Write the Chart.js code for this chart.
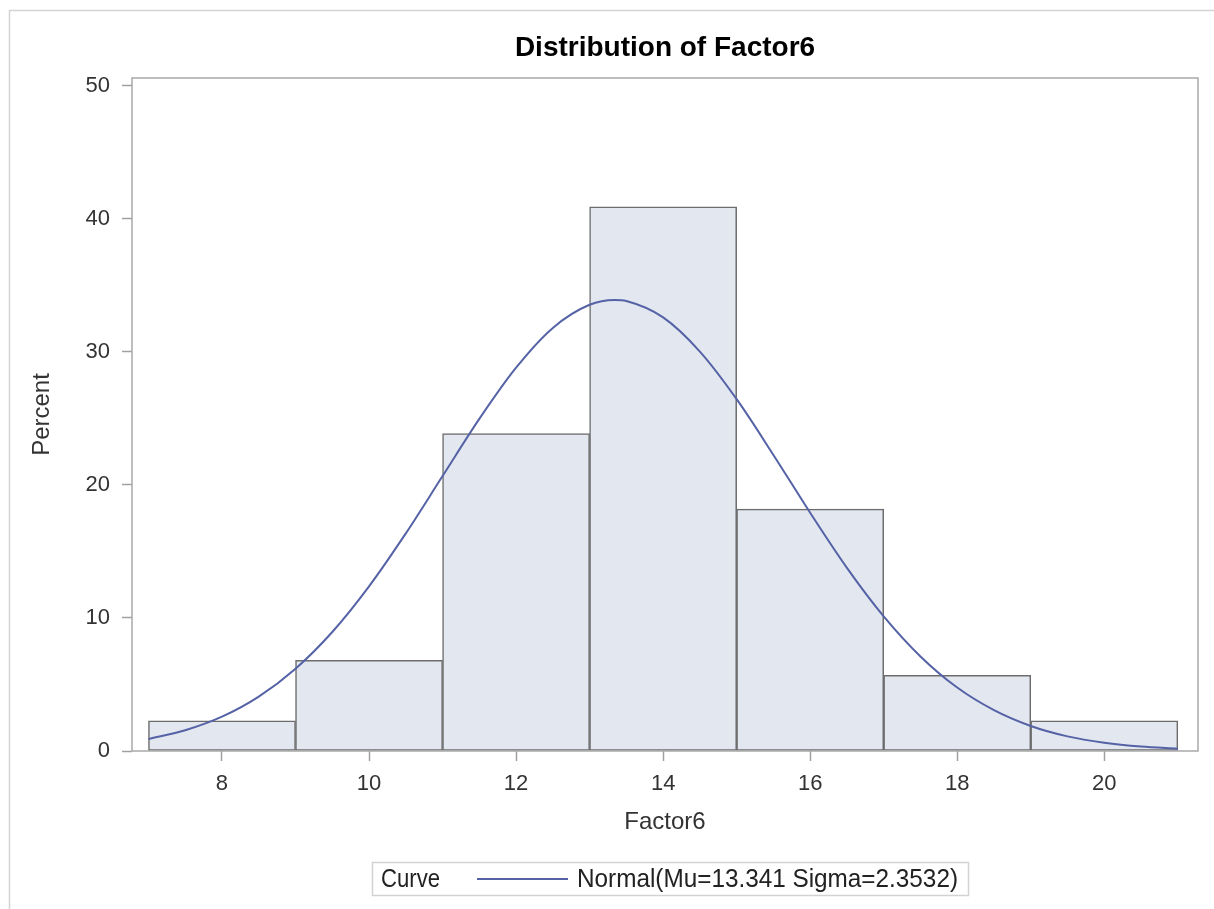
<!DOCTYPE html>
<html>
<head>
<meta charset="utf-8">
<script src="https://cdn.jsdelivr.net/npm/chart.js@4.4.1/dist/chart.umd.min.js"></script>
<style>
  html, body { margin: 0; padding: 0; background: #ffffff; }
  #wrap { position: relative; width: 1214px; height: 909px; }
</style>
</head>
<body>
<div id="wrap"><canvas id="c" width="1214" height="909"></canvas></div>
<script>
// ---- data ----
const binMidpoints = [8, 10, 12, 14, 16, 18, 20];
const binPercents  = [2.27, 6.82, 23.86, 40.91, 18.18, 5.68, 2.27];

const curveX = [7, 7.5, 8, 8.5, 9, 9.5, 10, 10.5, 11, 11.5, 12, 12.5, 13, 13.34, 13.5, 14, 14.5, 15, 15.5, 16, 16.5, 17, 17.5, 18, 18.5, 19, 19.5, 20, 20.5, 21];
const curveY = [0.90, 1.56, 2.58, 4.09, 6.19, 8.95, 12.38, 16.36, 20.67, 24.97, 28.82, 31.81, 33.55, 33.91, 33.83, 32.60, 30.03, 26.45, 22.26, 17.91, 13.77, 10.12, 7.11, 4.77, 3.07, 1.88, 1.10, 0.62, 0.33, 0.17];

const xTickValues = [8, 10, 12, 14, 16, 18, 20];
const yTickValues = [0, 10, 20, 30, 40, 50];

const chartTitle = 'Distribution of Factor6';
const xAxisTitle = 'Factor6';
const yAxisTitle = 'Percent';
const legendHeader = 'Curve';
const curveLabel = 'Normal(Mu=13.341 Sigma=2.3532)';

// ---- styling ----
const FONT = "'Liberation Sans', Arial, sans-serif";
const curveColor = '#5563a6';
const barFill = '#e3e7f0';
const barEdge = '#6c6c6c';
const frameColor = '#a9a9a9';

const decor = {
  id: 'decor',
  beforeDraw(chart) {
    const ctx = chart.ctx;
    ctx.save();
    ctx.fillStyle = '#ffffff';
    ctx.fillRect(0, 0, chart.width, chart.height);
    ctx.strokeStyle = '#d4d4d4';
    ctx.lineWidth = 1.5;
    ctx.beginPath();
    ctx.moveTo(9.5, chart.height);
    ctx.lineTo(9.5, 10.5);
    ctx.lineTo(chart.width, 10.5);
    ctx.stroke();
    ctx.restore();
  },
  afterDraw(chart) {
    const ctx = chart.ctx;
    const a = chart.chartArea;
    ctx.save();
    ctx.strokeStyle = frameColor;
    ctx.lineWidth = 1.5;
    ctx.strokeRect(a.left, a.top, a.right - a.left, a.bottom - a.top);

    // legend box
    const bx = 372.5, by = 862.5, bw = 596, bh = 33;
    ctx.strokeStyle = '#d2d2d2';
    ctx.lineWidth = 1.5;
    ctx.strokeRect(bx, by, bw, bh);
    const cy = by + bh / 2;
    ctx.fillStyle = '#222';
    ctx.font = '25px ' + FONT;
    ctx.textBaseline = 'middle';
    ctx.textAlign = 'left';
    ctx.fillText(legendHeader, 381, cy + 1, 59);
    ctx.strokeStyle = curveColor;
    ctx.lineWidth = 2;
    ctx.beginPath();
    ctx.moveTo(477, cy);
    ctx.lineTo(568, cy);
    ctx.stroke();
    ctx.fillText(chart.data.datasets[0].label, 577, cy + 1, 381);
    ctx.restore();
  }
};

new Chart(document.getElementById('c'), {
  type: 'bar',
  data: {
    datasets: [
      {
        type: 'line',
        label: curveLabel,
        data: curveX.map((x, i) => ({ x: x, y: curveY[i] })),
        borderColor: curveColor,
        borderWidth: 2,
        pointRadius: 0,
        fill: false,
        tension: 0.4,
        cubicInterpolationMode: 'monotone',
        order: 0
      },
      {
        type: 'bar',
        label: 'Percent',
        data: binMidpoints.map((x, i) => ({ x: x, y: binPercents[i] })),
        backgroundColor: barFill,
        borderColor: barEdge,
        borderWidth: 1.5,
        borderSkipped: false,
        barPercentage: 1,
        categoryPercentage: 1,
        order: 1
      }
    ]
  },
  options: {
    responsive: false,
    animation: false,
    devicePixelRatio: 1,
    layout: { padding: { left: 0, right: 16, top: 0, bottom: 0 } },
    plugins: {
      legend: { display: false },
      tooltip: { enabled: false },
      title: {
        display: true,
        text: chartTitle,
        fullSize: false,
        color: '#000',
        font: { family: FONT, size: 28, weight: 'bold', lineHeight: 1.2 },
        padding: { top: 31, bottom: 13.4 }
      }
    },
    scales: {
      x: {
        type: 'linear',
        offset: false,
        min: 6.776,
        max: 21.275,
        afterBuildTicks(scale) { scale.ticks = xTickValues.map(v => ({ value: v })); },
        afterFit(scale) { scale.height = 158; },
        grid: { display: true, drawOnChartArea: false, drawTicks: true, tickLength: 10, tickColor: '#a0a0a0', tickWidth: 1.5, offset: false },
        border: { display: false },
        ticks: { color: '#333', font: { family: FONT, size: 22 }, padding: 10, maxRotation: 0, autoSkip: false },
        title: { display: true, text: xAxisTitle, color: '#333', font: { family: FONT, size: 24, lineHeight: 1.2 }, padding: { top: 0, bottom: 72 } }
      },
      y: {
        type: 'linear',
        min: 0,
        max: 50.6,
        afterBuildTicks(scale) { scale.ticks = yTickValues.map(v => ({ value: v })); },
        afterFit(scale) { scale.width = 132; },
        grid: { display: true, drawOnChartArea: false, drawTicks: true, tickLength: 10, tickColor: '#a0a0a0', tickWidth: 1.5 },
        border: { display: false },
        ticks: { color: '#333', font: { family: FONT, size: 22 }, padding: 12 },
        title: { display: true, text: yAxisTitle, color: '#333', font: { family: FONT, size: 24, lineHeight: 1.2 }, padding: { top: 28, bottom: 0 } }
      }
    }
  },
  plugins: [decor]
});
</script>
</body>
</html>
